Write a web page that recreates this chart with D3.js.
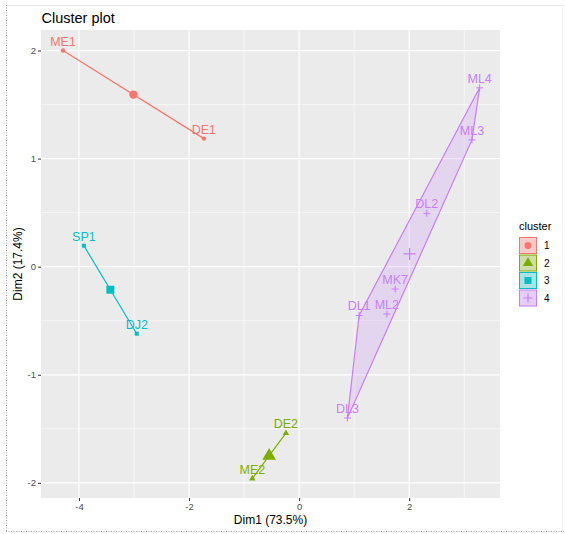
<!DOCTYPE html>
<html>
<head>
<meta charset="utf-8">
<script src="https://cdn.jsdelivr.net/npm/d3@7"></script>
<style>
  html, body { margin: 0; padding: 0; background: #ffffff; }
  svg { display: block; font-family: "Liberation Sans", Arial, Helvetica, sans-serif; }
</style>
</head>
<body>
<svg id="chart" width="565" height="534"></svg>
<script>
// ---- data ----
const clusterIds = ["1", "2", "3", "4"];
const clusterColors = ["#F8766D", "#7CAE00", "#00BFC4", "#C77CFF"];
const pointNames = ["ME1", "DE1", "DE2", "ME2", "SP1", "DJ2", "ML4", "ML3", "DL2", "MK7", "ML2", "DL1", "DL3"];
const dim1 = [-4.29, -1.73, -0.24, -0.85, -3.91, -2.95, 3.28, 3.14, 2.32, 1.745, 1.594, 1.09, 0.878];
const dim2 = [2.00, 1.185, -1.54, -1.96, 0.194, -0.62, 1.655, 1.173, 0.494, -0.207, -0.438, -0.451, -1.40];
const pointCluster = ["1", "1", "2", "2", "3", "3", "4", "4", "4", "4", "4", "4", "4"];
const xTicks = [-4, -2, 0, 2];
const yTicks = [-2, -1, 0, 1, 2];
const xMinor = [-3, -1, 1, 3];
const yMinor = [-1.5, -0.5, 0.5, 1.5];
const titleText = "Cluster plot";
const xTitle = "Dim1 (73.5%)";
const yTitle = "Dim2 (17.4%)";
const legendTitle = "cluster";

// ---- layout ----
const svg = d3.select("#chart");
const panel = { left: 41, right: 500, top: 30, bottom: 498 };
const x = d3.scaleLinear().domain([-4.69, 3.65]).range([panel.left, panel.right]);
const y = d3.scaleLinear().domain([-2.14, 2.19]).range([panel.bottom, panel.top]);
const color = d3.scaleOrdinal().domain(clusterIds).range(clusterColors);

// outer frame
svg.append("line").attr("x1", 6).attr("x2", 564).attr("y1", 5.5).attr("y2", 5.5).attr("stroke", "#e4e4e4");
svg.append("line").attr("x1", 562.5).attr("x2", 562.5).attr("y1", 5).attr("y2", 532).attr("stroke", "#f0f0f0");
svg.append("line").attr("x1", 6.5).attr("x2", 6.5).attr("y1", 5).attr("y2", 532).attr("stroke", "#9a9a9a").attr("stroke-dasharray", "1,1.5");
svg.append("line").attr("x1", 6).attr("x2", 564).attr("y1", 531.5).attr("y2", 531.5).attr("stroke", "#9a9a9a").attr("stroke-dasharray", "1,1.5");

// panel
svg.append("rect").attr("x", panel.left).attr("y", panel.top)
  .attr("width", panel.right - panel.left).attr("height", panel.bottom - panel.top)
  .attr("fill", "#EBEBEB");

const grid = svg.append("g");
grid.selectAll(".xm").data(xMinor).join("line")
  .attr("x1", d => x(d)).attr("x2", d => x(d)).attr("y1", panel.top).attr("y2", panel.bottom)
  .attr("stroke", "#ffffff").attr("stroke-width", 0.6);
grid.selectAll(".ym").data(yMinor).join("line")
  .attr("y1", d => y(d)).attr("y2", d => y(d)).attr("x1", panel.left).attr("x2", panel.right)
  .attr("stroke", "#ffffff").attr("stroke-width", 0.6);
grid.selectAll(".xM").data(xTicks).join("line")
  .attr("x1", d => x(d)).attr("x2", d => x(d)).attr("y1", panel.top).attr("y2", panel.bottom)
  .attr("stroke", "#ffffff").attr("stroke-width", 1.2);
grid.selectAll(".yM").data(yTicks).join("line")
  .attr("y1", d => y(d)).attr("y2", d => y(d)).attr("x1", panel.left).attr("x2", panel.right)
  .attr("stroke", "#ffffff").attr("stroke-width", 1.2);

// axes
const xAxis = d3.axisBottom(x).tickValues(xTicks).tickSize(3).tickPadding(2).tickFormat(d3.format("d"));
const yAxis = d3.axisLeft(y).tickValues(yTicks).tickSize(3).tickPadding(2).tickFormat(d3.format("d"));
const gx = svg.append("g").attr("transform", `translate(0,${panel.bottom})`).call(xAxis);
const gy = svg.append("g").attr("transform", `translate(${panel.left},0)`).call(yAxis);
[gx, gy].forEach(g => {
  g.select(".domain").remove();
  g.selectAll(".tick line").attr("stroke", "#333333").attr("stroke-width", 1);
  g.selectAll(".tick text").attr("fill", "#4D4D4D").style("font-size", "9.5px")
    .style("font-family", "'Liberation Sans', Arial, sans-serif");
});
gx.selectAll(".tick text").text(d => d < 0 ? "-" + Math.abs(d) : d);
gy.selectAll(".tick text").text(d => d < 0 ? "-" + Math.abs(d) : d);

// titles
svg.append("text").attr("x", 41.5).attr("y", 23).text(titleText)
  .attr("fill", "#000").style("font-size", "14.5px");
svg.append("text").attr("x", (panel.left + panel.right) / 2).attr("y", 524).attr("text-anchor", "middle")
  .text(xTitle).attr("fill", "#000").style("font-size", "12px");
svg.append("text").attr("transform", `translate(22,${(panel.top + panel.bottom) / 2}) rotate(-90)`)
  .attr("text-anchor", "middle").text(yTitle).attr("fill", "#000").style("font-size", "12px");

// ---- marks ----
const points = pointNames.map((n, i) => ({ name: n, x: dim1[i], y: dim2[i], c: pointCluster[i] }));
const byCluster = d3.group(points, d => d.c);
const plot = svg.append("g");

function plusPath(cx, cy, h) {
  return `M${cx - h},${cy}H${cx + h}M${cx},${cy - h}V${cy + h}`;
}
function drawShape(g, c, cx, cy, big) {
  const col = color(c);
  if (c === "1") {
    g.append("circle").attr("cx", cx).attr("cy", cy).attr("r", big ? 4.2 : 2.2).attr("fill", col);
  } else if (c === "2") {
    g.append("path").attr("transform", `translate(${cx},${cy})`)
      .attr("d", d3.symbol(d3.symbolTriangle, big ? 80 : 18)()).attr("fill", col);
  } else if (c === "3") {
    const s = big ? 8 : 4;
    g.append("rect").attr("x", cx - s / 2).attr("y", cy - s / 2).attr("width", s).attr("height", s).attr("fill", col);
  } else {
    g.append("path").attr("d", plusPath(cx, cy, big ? 6 : 3.5)).attr("stroke", col)
      .attr("stroke-width", big ? 1.2 : 1).attr("fill", "none");
  }
}

// hulls / segments
clusterIds.forEach(c => {
  const pts = byCluster.get(c).map(d => [x(d.x), y(d.y)]);
  const col = color(c);
  if (pts.length >= 3) {
    const hull = d3.polygonHull(pts);
    plot.append("path").attr("d", "M" + hull.join("L") + "Z")
      .attr("fill", col).attr("fill-opacity", 0.2).attr("stroke", col).attr("stroke-width", 1.2);
  } else {
    plot.append("line").attr("x1", pts[0][0]).attr("y1", pts[0][1]).attr("x2", pts[1][0]).attr("y2", pts[1][1])
      .attr("stroke", col).attr("stroke-width", 1.2);
  }
});

// points
points.forEach(d => drawShape(plot, d.c, x(d.x), y(d.y), false));

// centroids
clusterIds.forEach(c => {
  const arr = byCluster.get(c);
  drawShape(plot, c, x(d3.mean(arr, d => d.x)), y(d3.mean(arr, d => d.y)), true);
});

// labels
plot.selectAll(".lbl").data(points).join("text")
  .attr("x", d => x(d.x)).attr("y", d => y(d.y) - 5)
  .attr("text-anchor", "middle").attr("fill", d => color(d.c))
  .style("font-size", "12.5px").text(d => d.name);

// ---- legend ----
const lg = svg.append("g");
lg.append("text").attr("x", 519).attr("y", 230).text(legendTitle).attr("fill", "#000").style("font-size", "11px");
clusterIds.forEach((c, i) => {
  const ky = 237 + i * 17.5;
  const col = color(c);
  lg.append("rect").attr("x", 519.5).attr("y", ky + 0.5).attr("width", 17).attr("height", 16)
    .attr("fill", "#F2F2F2");
  lg.append("rect").attr("x", 519.5).attr("y", ky + 0.5).attr("width", 17).attr("height", 16)
    .attr("fill", col).attr("fill-opacity", 0.3).attr("stroke", col).attr("stroke-width", 1);
  const cx = 528, cy = ky + 8.5;
  if (c === "1") lg.append("circle").attr("cx", cx).attr("cy", cy).attr("r", 3.5).attr("fill", col);
  else if (c === "2") lg.append("path").attr("transform", `translate(${cx},${cy})`)
    .attr("d", d3.symbol(d3.symbolTriangle, 45)()).attr("fill", col);
  else if (c === "3") lg.append("rect").attr("x", cx - 3.5).attr("y", cy - 3.5).attr("width", 7).attr("height", 7).attr("fill", col);
  else lg.append("path").attr("d", plusPath(cx, cy, 4.5)).attr("stroke", col).attr("stroke-width", 1.2);
  lg.append("text").attr("x", 544).attr("y", cy + 3.5).text(c).attr("fill", "#000").style("font-size", "10px");
});
</script>
</body>
</html>
